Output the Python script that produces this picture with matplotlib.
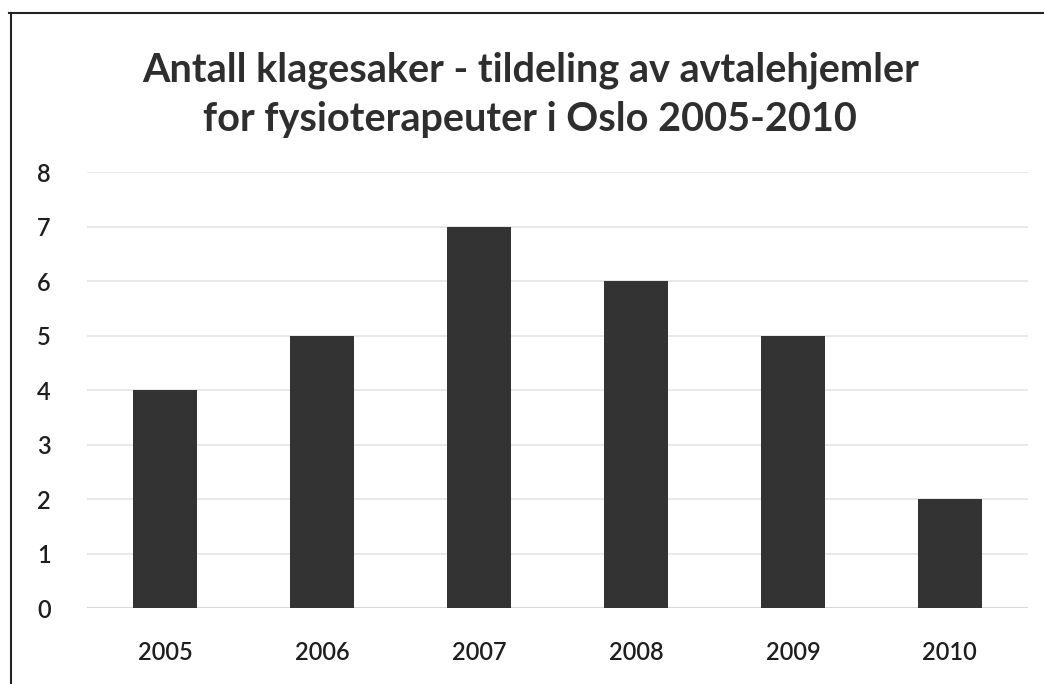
import matplotlib
matplotlib.use("Agg")
import matplotlib.pyplot as plt
from matplotlib.lines import Line2D

years = ["2005", "2006", "2007", "2008", "2009", "2010"]
cases = [4, 5, 7, 6, 5, 2]
y_ticks = [0, 1, 2, 3, 4, 5, 6, 7, 8]

plt.rcParams['font.family'] = ['Lato', 'DejaVu Sans']

fig = plt.figure(figsize=(10.44, 6.84), dpi=100)
ax = fig.add_axes([0.083, 0.111, 0.902, 0.637])

ax.bar(years, cases, width=0.41, color="#333333", zorder=3)
ax.set_xlim(-0.5, len(years) - 0.5)
ax.set_ylim(0, 8)
ax.set_yticks(y_ticks)
ax.grid(axis="y", color="#e4e4e4", linewidth=1.2, zorder=0)
for s in ax.spines.values():
    s.set_visible(False)
ax.axhline(0, color="#d8d8d8", linewidth=1.5, zorder=2)
ax.tick_params(axis="both", length=0, labelsize=17, colors="#1e1e1e")
ax.tick_params(axis="y", pad=26)
ax.tick_params(axis="x", pad=24)
for lbl in ax.get_xticklabels() + ax.get_yticklabels():
    lbl.set_fontweight("semibold")

fig.suptitle("Antall klagesaker - tildeling av avtalehjemler\nfor fysioterapeuter i Oslo 2005-2010",
             x=0.508, y=0.925, fontsize=28.5, fontweight="bold", color="#2e2e2e", linespacing=1.42)

# scanned chart frame (top and left edges)
fig.add_artist(Line2D([0.009, 1.0], [0.981, 0.981], color="#222222", linewidth=1.5))
fig.add_artist(Line2D([0.011, 0.011], [0.0, 0.981], color="#222222", linewidth=1.5))

fig.savefig("out.png", dpi=100)
